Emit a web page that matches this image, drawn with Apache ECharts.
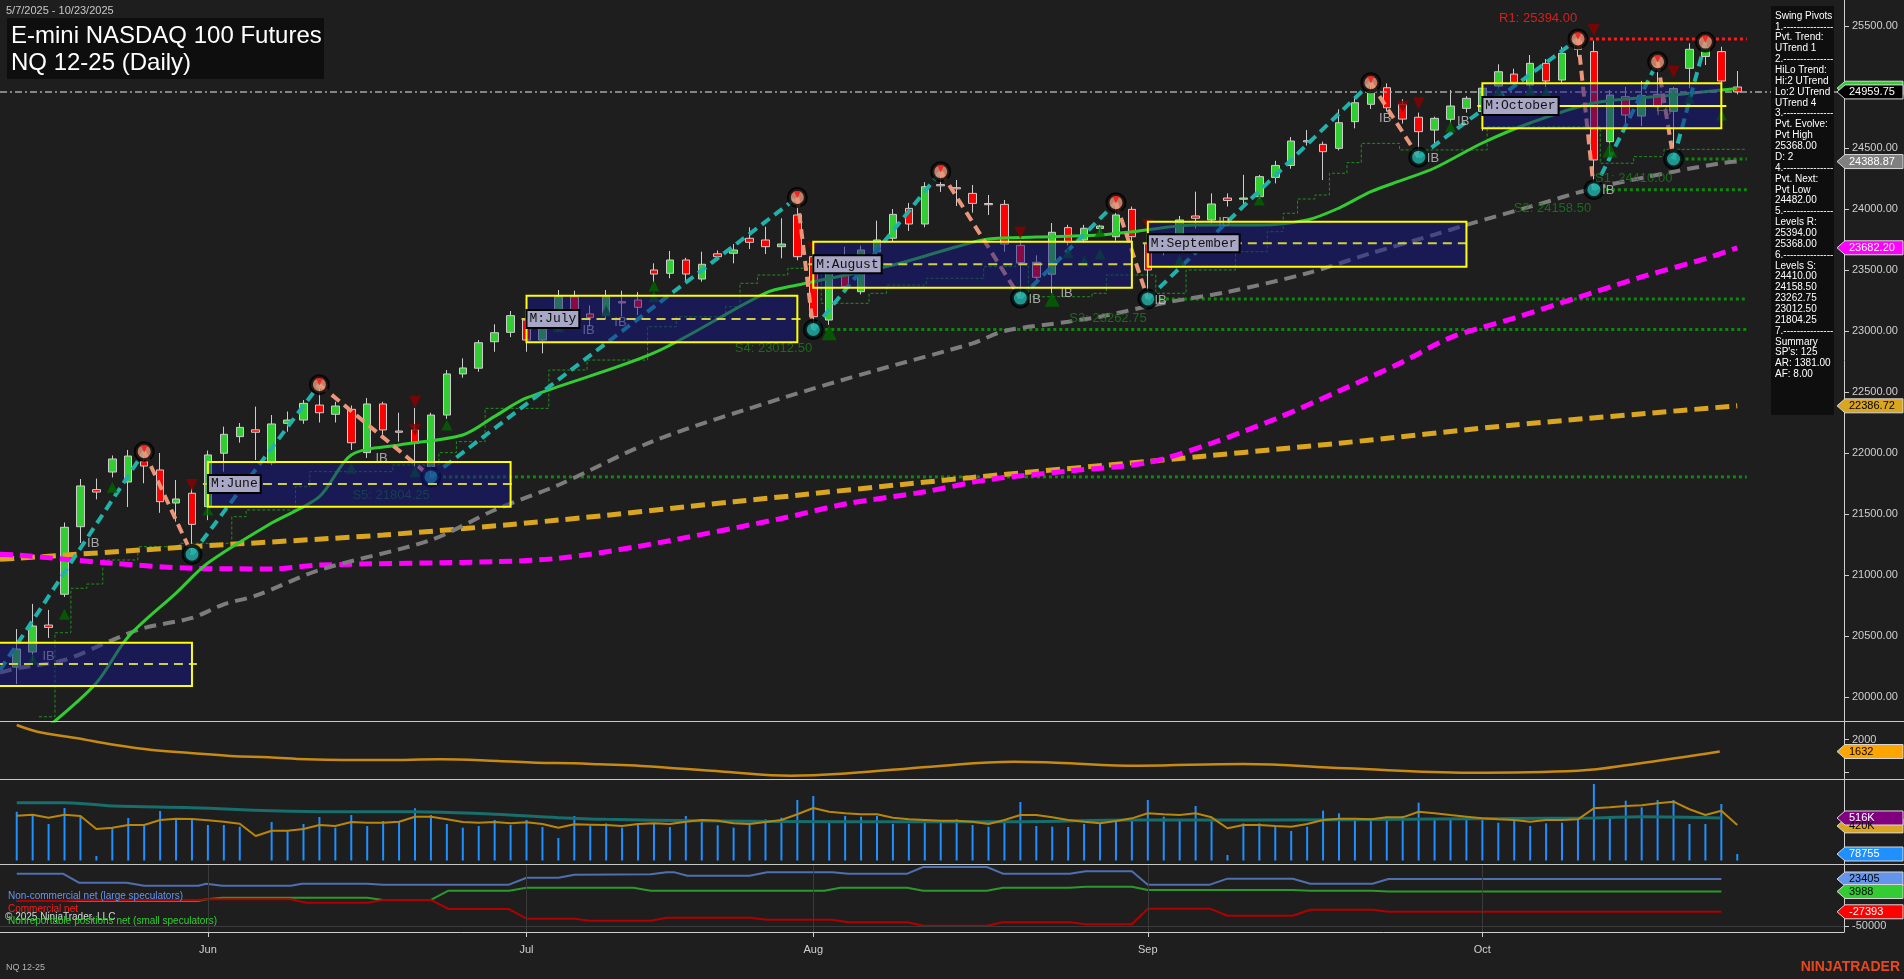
<!DOCTYPE html>
<html><head><meta charset="utf-8">
<script src="https://cdn.jsdelivr.net/npm/echarts@6/dist/echarts.min.js"></script>
<style>html,body{margin:0;padding:0;background:#1e1e1e;overflow:hidden}#c{width:1904px;height:979px}</style>
</head><body><div id="c"></div>
<script>
// ---------------- DATA ----------------
const monthStarts = [12, 32, 50, 71, 92];
const monthNames  = ['Jun', 'Jul', 'Aug', 'Sep', 'Oct'];
const priceTicks  = [20000,20500,21000,21500,22000,22500,23000,23500,24000,24500,25000,25500];

const opens = [20245,20369,20590,20842,21396,21700,21844,21762,21929,21861,21590,21670,21560,21998,22134,22190,21920,22243,22270,22393,22317,22358,22003,22402,22180,22189,21888,22311,22648,22695,22912,22989,23090,22926,23035,23281,23140,23131,23240,23254,23500,23473,23582,23426,23633,23637,23760,23746,23691,23951,23609,23090,23598,23322,23650,23760,24005,23877,24200,24175,24128,24045,24038,23702,23563,23465,23847,23746,23840,23773,23997,23718,23660,23718,23943,23910,24090,24080,24101,24259,24357,24560,24530,24497,24716,24858,24994,24858,24752,24647,24735,24825,24800,25008,25106,25016,25194,25057,25377,25290,24552,24920,24762,24940,24801,25153,25250,25290,25000];
const highs = [20557,20763,20714,21430,21787,21790,21980,22025,22011,22000,21779,21711,22020,22216,22246,22380,22311,22340,22434,22560,22420,22390,22451,22420,22330,22370,22330,22680,22776,22926,23055,23164,23172,23120,23336,23330,23210,23336,23330,23320,23555,23656,23600,23650,23660,23713,23850,23855,23924,24095,23650,23560,23690,23700,23904,24000,24050,24220,24306,24238,24197,24115,24074,23740,23620,23885,23870,23870,23870,24052,24020,23740,23770,23943,24142,24128,24128,24280,24280,24395,24590,24647,24552,24817,24907,25035,25030,24900,24790,24757,24975,24925,25020,25186,25150,25262,25230,25330,25394,25380,24975,25000,25050,25207,25000,25358,25368,25330,25131];
const lows = [20106,20295,20484,20820,21262,21620,21800,21557,21752,21510,21437,21170,21450,21847,22085,21943,21900,22175,22240,22250,22250,22025,21959,22150,22093,21890,21804.25,22280,22617,22666,22830,22950,22830,22817,23000,23050,23035,23100,23120,23130,23400,23432,23404,23404,23580,23555,23672,23631,23596,23580,23012.5,23050,23330,23300,23600,23730,23820,23850,24140,24024,23970,23951,23650,23270,23400,23309,23700,23720,23780,23740,23700,23262.75,23620,23690,23840,23880,24020,24010,24080,24210,24330,24520,24238,24480,24661,24820,24800,24700,24425,24510,24700,24790,24640,24989,24990,24989,25000,25030,25250,24158.5,24443,24680,24680,24800,24410,24990,25180,24990,24940];
const closes = [20393,20582,20570,21391,21730,21680,21951,21975,21893,21601,21623,21415,21984,22153,22210,22170,22238,22270,22407,22330,22385,22084,22402,22189,22170,22080,22311,22648,22697,22904,22986,23126,22926,23060,23281,23117,23110,23281,23230,23194,23467,23582,23467,23547,23609,23664,23727,23691,23713,23609,23117,23527,23363,23664,23746,23956,23877,24183,24190,24165,24046,24035,23713,23560,23440,23809,23732,23842,23860,23951,23773,23500,23690,23910,23924,24041,24070,24090,24265,24357,24557,24550,24470,24707,24871,24962,24830,24737,24634,24743,24844,24907,24990,25125,25038,25194,25049,25276,25309,24402,24934,24770,24929,24838,24987,25309,25320,25049,24959.75];

// volume (thousands)
const volume = [592,561,443,637,532,55,403,516,439,601,516,516,431,431,410,0,467,358,443,528,398,552,419,480,471,634,552,443,398,419,492,431,492,407,273,540,419,
 451,399,451,451,407,541,500,427,399,439,500,520,734,783,471,541,532,541,443,443,479,479,500,431,411,492,710,419,411,407,443,451,492,492,734,532,484,662,479,67,451,451,419,358,411,605,573,492,479,532,541,702,508,508,520,492,459,492,419,451,459,492,929,541,726,645,734,734,443,443,686,78.755];
const volAvgFast = [544,556,520,556,540,383,398,431,431,492,507,504,488,471,447,297,362,362,383,431,419,467,459,459,471,532,532,500,467,459,467,452,464,443,398,439,435,
 431,419,443,452,443,471,492,483,452,443,467,492,561,637,592,573,561,561,520,500,492,483,483,471,443,492,552,552,524,492,471,452,480,512,573,561,552,573,524,391,431,431,419,411,443,492,507,507,500,524,524,592,573,552,532,512,500,492,471,492,492,500,634,646,662,670,694,714,622,552,605,431];
const volAvgSlow = [[0,702],[3,702],[6,662],[11,641],[16,605],[20,592],[25,592],[30,561],[34,520],[37,500],[43,483],[52,471],[63,471],[70,492],[78,492],[89,504],[99,516],[102,532],[107,516]];

const atrLine = [[0,2444],[1.3,2239],[3.7,2046],[6.2,1832],[8.5,1679],[10.9,1587],[13.4,1495],[15.8,1455],[18.2,1394],[20.5,1373],[23,1373],[26.6,1394],[30.2,1342],[32.6,1290],[35,1271],[36.6,1241],[39.2,1189],[44.4,1014],[48.6,892],[52.2,965],[57.4,1167],[62.6,1320],[65.2,1290],[70.4,1198],[77,1250],[83.4,1118],[91.2,984],[98,1045],[101.6,1250],[106.9,1632]];

const cotNonComm = [[0,31600],[2.9,31600],[3.9,17700],[6.9,17700],[8,13000],[11.4,13000],[11.9,16100],[12.9,13000],[17.2,13000],[17.9,16100],[22,16100],[23,14600],[30.9,14600],[32,25400],[34,25400],[35,30000],[39.8,30600],[40.8,33700],[41.3,33700],[42.1,28500],[46,28500],[47.1,33700],[51.2,33700],[52.2,31600],[55.9,31600],[56.9,42000],[60.9,42000],[61.9,31600],[66.1,31600],[67.1,35300],[70,35300],[71,14600],[74.9,14600],[76,23900],[80.1,23900],[81.2,16100],[85.1,16100],[86.1,23405],[107,23405]];
const cotComm = [[0,-10700],[2.9,-10700],[3.9,-9100],[11.4,-9100],[11.9,-8100],[17.2,-8100],[18.2,-13300],[22,-13300],[23,-9100],[26,-9100],[27.1,-23100],[30.9,-23100],[32,-38100],[35,-38100],[36,-41200],[39.8,-41200],[40.8,-36500],[46,-36500],[47.1,-39700],[51.2,-39700],[52.2,-43700],[55.9,-43700],[56.9,-49000],[60.9,-49000],[61.9,-43700],[66.1,-43700],[67.1,-46800],[70,-46800],[71,-22600],[74.9,-22600],[76,-33500],[80.1,-33500],[81.2,-24200],[85.1,-24200],[86.1,-27393],[107,-27393]];
const cotSmall = [[0,-10700],[11.4,-10700],[11.9,-8100],[12.9,-5600],[22,-5600],[23,-9100],[26,-9100],[27.1,5300],[30.9,5300],[32,9900],[38.7,9900],[39.8,5300],[50.7,5300],[51.7,9900],[55.9,9900],[56.9,5300],[60.9,5300],[61.9,9900],[66.1,9900],[67.1,11500],[70,11500],[71,6400],[80.1,6400],[81.2,5300],[85.1,5300],[86.1,3988],[107,3988]];

const fastMA = [[2,19760],[5,20115],[7,20494],[10,20852],[12,21098],[16,21426],[19,21642],[21,21984],[24,22066],[28,22148],[30,22300],[32,22451],[40,22820],[47,23311],[49,23377],[55,23541],[59,23691],[61,23754],[64,23770],[68,23787],[70,23814],[74,23869],[78,23869],[81,23910],[83,24008],[85,24142],[87,24238],[89,24336],[92,24541],[95,24705],[99,24869],[104,24934],[107,24975],[108,24985]];
const grayMA = [[-1.05,20200],[0,20235],[3,20303],[6,20467],[8,20566],[11,20648],[13,20760],[15,20830],[19,21041],[26,21287],[30,21533],[34,21738],[40,22100],[48,22448],[54,22680],[60,22899],[62,23000],[66,23076],[68,23117],[72,23230],[76,23320],[81,23473],[85,23637],[89,23790],[91,23870],[95,24019],[99,24169],[104,24306],[107,24375],[108,24388.87]];
const magentaMA = [[-1.05,21170],[0,21164],[6,21096],[11,21055],[16,21050],[19,21082],[30,21109],[34,21137],[39,21234],[48,21463],[52,21582],[57,21682],[61,21782],[66,21852],[71,21921],[75,22080],[79,22279],[83,22508],[87,22747],[90,22946],[94,23106],[98,23275],[102,23443],[106,23593],[108,23682.2]];
const orangeMA = [[-1.05,21130],[0,21137],[11,21232],[23,21328],[34,21450],[45,21600],[60,21800],[71,21931],[83,22080],[94,22230],[108,22386.72]];
const trailStop = [[1.4,19838],[2.4,20527],[3.4,20891],[4.4,20926],[5.4,21123],[7.6,21232],[10.2,21260],[13.5,21478],[14.4,21533],[17.5,21724],[18.4,21847],[23.6,21902],[26.5,22003],[27.6,22093],[29.4,22366],[33.4,22680],[35.8,22762],[39.6,23035],[41.4,23117],[44.5,23199],[45.4,23391],[46.5,23459],[48.4,23514],[50.5,23227],[53.5,23309],[54.6,23377],[57.1,23432],[60.7,23527],[62.7,23555],[63.5,23281],[67.5,23309],[68.4,23459],[71.5,23309],[73.4,23500],[76.5,23650],[78.5,23814],[79.5,23965],[80.4,24082],[81.5,24115],[82.4,24293],[83.5,24380],[84.4,24538],[86.8,24484],[92.3,24675],[99.4,24375],[101.5,24429],[103.4,24489],[108.5,24489]];

const zigStart = [-1.05, 20221];
const pivIdx  = [8,11,19,26,49,50,58,63,69,71,85,88,98,99,103,104,106];
const pivVal  = [22011,21170,22560,21804.25,24095,23012.5,24306,23270,24052,23262.75,25035,24425,25394,24158.5,25207,24410,25368];
const pivType = ['H','L','H','L','H','L','H','L','H','L','H','L','H','L','H','L','H'];

const boxStart = [-3, 12, 32, 50, 71, 92];
const boxEnd   = [11, 31, 49, 70, 91, 107];
const boxHigh  = [20445, 21926, 23289, 23732, 23896, 25030];
const boxLow   = [20090, 21560, 22907, 23355, 23527, 24661];
const boxMid   = [20270, 21746, 23098, 23547, 23719, 24844];
const boxName  = ['', 'M:June', 'M:July', 'M:August', 'M:September', 'M:October'];
const boxSolidMid = [0, 0, 0, 0, 0, 1];

const levelName = ['R1: 25394.00','S1: 24410.00','S2: 24158.50','S3: 23262.75','S4: 23012.50','S5: 21804.25'];
const levelVal  = [25394, 24410, 24158.5, 23262.75, 23012.5, 21804.25];
const levelFrom = [98, 104, 99, 71, 50, 26];
const levelTextIdx = [95.5, 101.5, 96.4, 68.5, 47.5, 23.5];

const ibIdx = [4.8, 2.0, 22.9, 35.9, 37.9, 63.9, 65.9, 71.8, 75.8, 85.9, 90.8, 88.9, 99.9];
const ibVal = [21262, 20336, 21959, 23008, 23074, 23262, 23311, 23254, 23893, 24743, 24721, 24416, 24150];

const upIdx = [1,3,6,12,21,25,27,34,37,40,40,51,65,66,67,68,68,73,78,90,93,95,96,100,105,107];
const upVal = [20309,20678,21719,21533,21875,21847,22230,23035,23164,23369,23281,22986,23260,23642,23574,23814,23631,23582,24074,24675,24961,24975,24961,24484,24907,24770];
const upBig = [51, 65, 100];
const downIdx = [11,25,25,50,63,71,87,88,99,104];
const downVal = [21738,22420,22189,23678,23806,23869,24838,24866,25467,25125];

const lastPrice = 24959.75;
const priceCallVal  = [24990, 24959.75, 24388.87, 23682.20, 22386.72];
const priceCallText = ['', '24959.75', '24388.87', '23682.20', '22386.72'];
const priceCallBg   = ['#32cd32', '#000000', '#808080', '#ff00ff', '#daa520'];
const priceCallFg   = ['#000', '#ffffff', '#ffffff', '#ffffff', '#000000'];

const infoLines = ['Swing Pivots','1.---------------','Pvt. Trend:','UTrend 1','2.---------------','HiLo Trend:','Hi:2 UTrend','Lo:2 UTrend','UTrend 4','3.---------------','Pvt. Evolve:','Pvt High','25368.00','D: 2','4.---------------','Pvt. Next:','Pvt Low','24482.00','5.---------------','Levels R:','25394.00','25368.00','6.---------------','Levels S:','24410.00','24158.50','23262.75','23012.50','21804.25','7.---------------','Summary',"SP's: 125",'AR: 1381.00','AF: 8.00'];

// ---------------- CHART ----------------
const FONT = '"Liberation Sans", Arial, sans-serif';
const AX = '#cfcfcf';
const XMIN = -1.05, XMAX = 114.7;
const CLEAR = 'rgba(0,0,0,0)';
const chart = echarts.init(document.getElementById('c'), null, {renderer: 'canvas'});

const grids = [
  {left: 0, right: 60, top: 0, height: 721},
  {left: 0, right: 60, top: 721, height: 58},
  {left: 0, right: 60, top: 779, height: 85},
  {left: 0, right: 60, top: 864, height: 68}
];
const xAxes = grids.map((g, k) => ({
  gridIndex: k, type: 'value', min: XMIN, max: XMAX, show: k === 3, position: 'bottom',
  axisLine: {show: true, onZero: false, lineStyle: {color: AX}},
  axisTick: {show: true, length: 5, lineStyle: {color: AX}, customValues: monthStarts},
  axisLabel: {customValues: monthStarts, color: AX, fontSize: 11, fontFamily: FONT, margin: 12,
    formatter: v => monthNames[monthStarts.indexOf(v)] || ''},
  splitLine: {show: false}
}));
function yAx(k, min, max, ticks, labels, fmt) {
  return {gridIndex: k, type: 'value', position: 'right', min: min, max: max, scale: true,
    axisLine: {show: true, onZero: false, lineStyle: {color: AX}},
    axisTick: {show: ticks.length > 0, length: 5, lineStyle: {color: AX}, customValues: ticks},
    axisLabel: {show: labels.length > 0, customValues: labels, color: AX, fontSize: 11, fontFamily: FONT, margin: 8, formatter: fmt},
    splitLine: {show: false}};
}
const yAxes = [
  yAx(0, 19803.3, 25713.1, priceTicks, priceTicks, v => v.toFixed(2)),
  yAx(1, 791, 2566, [1000, 2000], [2000], v => String(v)),
  yAx(2, -42.5, 989.5, [], [], v => String(v)),
  yAx(3, -58707, 46625, [-50000], [-50000], v => String(v))
];

const series = [];
const P = {xAxisIndex: 0, yAxisIndex: 0};

// trailing step line
series.push(Object.assign({type: 'line', data: trailStop, step: 'end', symbol: 'none', z: 2,
  lineStyle: {color: '#1f8f1f', width: 1, type: [3, 2]}}, P));
// level lines
levelVal.forEach((v, k) => {
  series.push(Object.assign({type: 'line', data: [[levelFrom[k], v], [108.6, v]], symbol: 'none', z: 2,
    lineStyle: {color: k === 0 ? '#ff1a1a' : '#0c8a0c', width: 3, type: [3, 3]}}, P));
});
// candles
series.push(Object.assign({type: 'candlestick', z: 3, barWidth: 8,
  data: opens.map((o, i) => [i, o, closes[i], lows[i], highs[i]]),
  encode: {x: 0, y: [1, 2, 3, 4]},
  itemStyle: {color: '#32cd32', color0: '#ff0000', borderColor: '#cdcdcd', borderColor0: '#cdcdcd', borderWidth: 1}}, P));
// moving averages
series.push(Object.assign({type: 'line', data: orangeMA, symbol: 'none', smooth: 0.3, z: 4,
  lineStyle: {color: '#daa520', width: 5, type: [14, 7]}}, P));
series.push(Object.assign({type: 'line', data: magentaMA, symbol: 'none', smooth: 0.3, z: 4,
  lineStyle: {color: '#ff00ff', width: 5, type: [13, 7]}}, P));
series.push(Object.assign({type: 'line', data: grayMA, symbol: 'none', smooth: 0.3, z: 4,
  lineStyle: {color: '#7c7c7c', width: 4, type: [12, 7]}}, P));
series.push(Object.assign({type: 'line', data: fastMA, symbol: 'none', smooth: 0.3, z: 4,
  lineStyle: {color: '#32cd32', width: 3}}, P));
// last price dash-dot
series.push(Object.assign({type: 'line', data: [[XMIN, lastPrice], [XMAX, lastPrice]], symbol: 'none', z: 4,
  lineStyle: {color: '#a8a8a8', width: 1.5, type: [7, 3, 2, 3]}}, P));
// zigzag
const zx = [zigStart[0]].concat(pivIdx), zy = [zigStart[1]].concat(pivVal);
for (let k = 0; k < zx.length - 1; k++) {
  series.push(Object.assign({type: 'line', data: [[zx[k], zy[k]], [zx[k + 1], zy[k + 1]]], symbol: 'none', z: 5,
    lineStyle: {color: zy[k + 1] > zy[k] ? '#20b2aa' : '#e9967a', width: 4, type: [10, 6]}}, P));
}
// signal triangles
series.push(Object.assign({type: 'scatter', z: 5, symbol: 'triangle', silent: true,
  data: upIdx.map((x, k) => ({value: [x, upVal[k]], symbolSize: upBig.indexOf(x) >= 0 ? 15 : 11})),
  itemStyle: {color: '#006400'}}, P));
series.push(Object.assign({type: 'scatter', z: 5, symbol: 'triangle', symbolRotate: 180, symbolSize: 12, silent: true,
  data: downIdx.map((x, k) => [x, downVal[k]]), itemStyle: {color: '#8b0000'}}, P));
// pivot circles
series.push(Object.assign({type: 'scatter', z: 6, symbol: 'circle', symbolSize: 17, silent: true,
  data: pivIdx.map((x, k) => ({value: [x, pivVal[k]], itemStyle: {color: pivType[k] === 'H' ? '#e9967a' : '#20b2aa'}})),
  itemStyle: {borderColor: '#000', borderWidth: 4}}, P));
series.push(Object.assign({type: 'scatter', z: 6, symbol: 'triangle', symbolRotate: 180, symbolSize: 7, silent: true,
  symbolOffset: [0, -3],
  data: pivIdx.filter((x, k) => pivType[k] === 'H').map(x => [x, pivVal[pivIdx.indexOf(x)]]),
  itemStyle: {color: '#ff1010'}}, P));
// text labels (IB, F0, level names)
function textSeries(points, texts, colors, offsets) {
  return Object.assign({type: 'scatter', z: 6, symbolSize: 2, silent: true, itemStyle: {color: CLEAR},
    data: points.map((p, k) => ({value: p, label: {formatter: texts[k], color: colors[k], offset: offsets ? offsets[k] : [0, 0]}})),
    label: {show: true, position: 'inside', fontSize: 13, fontFamily: FONT}}, P);
}
series.push(textSeries(ibIdx.map((x, k) => [x, ibVal[k]]), ibIdx.map(() => 'IB'), ibIdx.map(() => '#c8c8c8')));
series.push(textSeries([[103.4, 24798]], ['F0'], ['#c8c040']));
series.push(textSeries(levelVal.map((v, k) => [levelTextIdx[k], v]), levelName,
  levelVal.map((v, k) => k === 0 ? '#ff2020' : '#1c7c1c'), levelVal.map((v, k) => [0, k === 0 ? -21 : 19])));
// monthly boxes
series.push(Object.assign({type: 'custom', z: 10, silent: true, clip: true,
  data: boxStart.map((s, k) => [s, boxEnd[k], boxHigh[k], boxLow[k], boxMid[k], k]),
  encode: {x: [0, 1], y: [2, 3]},
  renderItem: function (params, api) {
    const k = api.value(5);
    const p1 = api.coord([api.value(0), api.value(2)]);
    const p2 = api.coord([api.value(1), api.value(3)]);
    const pm = api.coord([api.value(0), api.value(4)]);
    const w = p2[0] - p1[0], h = p2[1] - p1[1];
    const ch = [
      {type: 'rect', shape: {x: p1[0], y: p1[1], width: w, height: h}, style: {fill: 'rgba(20,20,135,0.5)'}},
      {type: 'line', shape: {x1: p1[0] - 5, y1: pm[1], x2: p2[0] + 5, y2: pm[1]},
        style: {stroke: boxSolidMid[k] ? '#ffff00' : '#cfcf45', lineWidth: 2, lineDash: boxSolidMid[k] ? null : [9, 6]}},
      {type: 'rect', shape: {x: p1[0], y: p1[1], width: w, height: h}, style: {fill: null, stroke: '#ffff00', lineWidth: 2}}
    ];
    if (boxName[k]) {
      ch.push({type: 'text', x: p1[0] + 1, y: pm[1], style: {text: boxName[k], fill: '#111', font: '13px "Liberation Mono", monospace',
        align: 'left', verticalAlign: 'middle', backgroundColor: '#a8a8c6', borderColor: '#000', borderWidth: 2, padding: [2, 2, 1, 2]}});
    }
    return {type: 'group', children: ch};
  }}, P));

// ATR panel
series.push({type: 'line', xAxisIndex: 1, yAxisIndex: 1, data: atrLine, symbol: 'none', smooth: 0.4,
  lineStyle: {color: '#c88a12', width: 2.5}});
// volume panel
series.push({type: 'bar', xAxisIndex: 2, yAxisIndex: 2, data: volume.map((v, i) => [i, v]), barWidth: 2,
  itemStyle: {color: '#1e90ff'}});
series.push({type: 'line', xAxisIndex: 2, yAxisIndex: 2, data: volAvgSlow, symbol: 'none', smooth: 0.4,
  lineStyle: {color: '#176e6c', width: 3}});
series.push({type: 'line', xAxisIndex: 2, yAxisIndex: 2, data: volAvgFast.map((v, i) => [i, v]), symbol: 'none',
  lineStyle: {color: '#b8860b', width: 2}});
// COT panel
series.push({type: 'line', xAxisIndex: 3, yAxisIndex: 3, data: cotSmall, symbol: 'none', lineStyle: {color: '#2a9a2a', width: 2}});
series.push({type: 'line', xAxisIndex: 3, yAxisIndex: 3, data: cotComm, symbol: 'none', lineStyle: {color: '#b00000', width: 2}});
series.push({type: 'line', xAxisIndex: 3, yAxisIndex: 3, data: cotNonComm, symbol: 'none', lineStyle: {color: '#4f6fb0', width: 2},
  markLine: {silent: true, symbol: 'none', label: {show: false}, lineStyle: {color: '#3a3a3a', width: 1, type: 'solid'},
    data: monthStarts.map(m => ({xAxis: m})).concat([{yAxis: -50000}])}});

chart.setOption({
  backgroundColor: '#1e1e1e', animation: false,
  grid: grids, xAxis: xAxes, yAxis: yAxes, series: series
});

// ---------------- GRAPHICS ----------------
const g = [];
[721, 779, 864].forEach(y => g.push({type: 'line', shape: {x1: 0, y1: y + 0.5, x2: 1904, y2: y + 0.5}, style: {stroke: '#c8c8c8', lineWidth: 1}, z: 50}));
g.push({type: 'text', x: 6, y: 11, style: {text: '5/7/2025 - 10/23/2025', fill: '#c8c8c8', font: '11px ' + FONT, align: 'left', verticalAlign: 'middle'}, z: 50});
g.push({type: 'rect', shape: {x: 7, y: 18, width: 317, height: 61}, style: {fill: '#0e0e0e'}, z: 50});
g.push({type: 'text', x: 11, y: 36, style: {text: 'E-mini NASDAQ 100 Futures', fill: '#ffffff', font: '24px ' + FONT, align: 'left', verticalAlign: 'middle'}, z: 51});
g.push({type: 'text', x: 11, y: 63, style: {text: 'NQ 12-25 (Daily)', fill: '#ffffff', font: '24px ' + FONT, align: 'left', verticalAlign: 'middle'}, z: 51});
g.push({type: 'rect', shape: {x: 1771, y: 6, width: 63, height: 409}, style: {fill: '#0e0e0e'}, z: 50});
infoLines.forEach((t, k) => g.push({type: 'text', x: 1775, y: 16 + k * 10.86,
  style: {text: t, fill: '#ffffff', font: '10px ' + FONT, align: 'left', verticalAlign: 'middle'}, z: 51}));
g.push({type: 'text', x: 6, y: 968, style: {text: 'NQ 12-25', fill: '#b4b4b4', font: '9px ' + FONT, align: 'left', verticalAlign: 'middle'}, z: 50});
g.push({type: 'text', x: 1900, y: 967, style: {text: 'NINJATRADER', fill: '#e8471e', font: 'bold 14px ' + FONT, align: 'right', verticalAlign: 'middle'}, z: 50});
const cotLegend = [['Non-commercial net (large speculators)', '#6495ed', 896], ['Commercial net', '#ff1a1a', 909], ['© 2025 NinjaTrader, LLC', '#d8d8d8', 917], ['Nonreportable positions net (small speculators)', '#32cd32', 921]];
cotLegend.forEach(c => g.push({type: 'text', x: c[0][0] === '©' ? 5 : 8, y: c[2], style: {text: c[0], fill: c[1], font: '10px ' + FONT, align: 'left', verticalAlign: 'middle'}, z: 50}));

function callout(y, bg, fg, text) {
  g.push({type: 'polygon', shape: {points: [[1837, y], [1845, y - 7], [1903, y - 7], [1903, y + 7], [1845, y + 7]]},
    style: {fill: bg, stroke: '#d8d8d8', lineWidth: 1}, z: 60});
  if (text) g.push({type: 'text', x: 1849, y: y, style: {text: text, fill: fg, font: '11px ' + FONT, align: 'left', verticalAlign: 'middle'}, z: 61});
}
function py(grid, v) { return chart.convertToPixel({gridIndex: grid}, [0, v])[1]; }
priceCallVal.forEach((v, k) => callout(py(0, v), priceCallBg[k], priceCallFg[k], priceCallText[k]));
callout(py(1, 1632), '#ffa500', '#000', '1632');
callout(py(2, 420), '#daa520', '#000', '420K');
callout(py(2, 516), '#800080', '#fff', '516K');
callout(py(2, 78.755), '#1e90ff', '#fff', '78755');
callout(py(3, 23405), '#6495ed', '#000', '23405');
callout(py(3, 3988), '#32cd32', '#000', '3988');
callout(py(3, -27393), '#ff0000', '#fff', '-27393');

chart.setOption({graphic: g});
</script></body></html>
